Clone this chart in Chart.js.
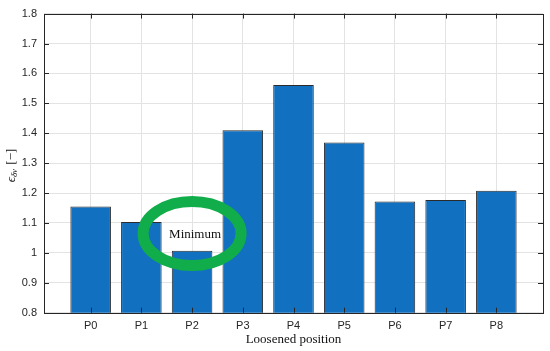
<!DOCTYPE html>
<html>
<head>
<meta charset="utf-8">
<script src="https://cdn.jsdelivr.net/npm/chart.js@4/dist/chart.umd.min.js"></script>
<style>
  html, body { margin: 0; padding: 0; background: #fff; }
  #wrap { width: 550px; height: 351px; }
</style>
</head>
<body>
<div id="wrap"><canvas id="chart"></canvas></div>
<script>
// chart data
const positions = ['P0', 'P1', 'P2', 'P3', 'P4', 'P5', 'P6', 'P7', 'P8'];
const errorValues = [1.155, 1.103, 1.007, 1.410, 1.561, 1.369, 1.172, 1.177, 1.208];
const yTicks = [0.8, 0.9, 1, 1.1, 1.2, 1.3, 1.4, 1.5, 1.6, 1.7, 1.8];
const markedPosition = 2;      // P2 gets the "Minimum" ring
const markedLevel = 1.065;     // ring centre height
const markText = 'Minimum';

const axisColor = '#262626';
const tickFont = { family: '"Liberation Sans", Arial, sans-serif', size: 11 };

// MATLAB style box + inward tick marks, axis titles, annotation ring
const decorPlugin = {
    id: 'decor',
    afterDatasetsDraw(chart) {
        const ctx = chart.ctx;
        const a = chart.chartArea;
        const x = chart.scales.x;
        const y = chart.scales.y;

        // annotation ring
        const cx = x.getPixelForValue(markedPosition);
        const cy = y.getPixelForValue(markedLevel);
        ctx.save();
        ctx.strokeStyle = '#12ad4b';
        ctx.lineWidth = 11;
        ctx.beginPath();
        ctx.ellipse(cx, cy, 49, 32, 0, 0, Math.PI * 2);
        ctx.stroke();
        ctx.fillStyle = '#111';
        ctx.font = '13px "Liberation Serif", "Times New Roman", serif';
        ctx.textAlign = 'center';
        ctx.textBaseline = 'middle';
        ctx.fillText(markText, cx + 3, cy + 1);
        ctx.restore();

        // box
        ctx.save();
        ctx.strokeStyle = axisColor;
        ctx.lineWidth = 1;
        ctx.strokeRect(Math.round(a.left) + 0.5, Math.round(a.top) + 0.5,
            Math.round(a.right - a.left), Math.round(a.bottom - a.top));

        // inward ticks
        ctx.beginPath();
        positions.forEach((p, i) => {
            const px = Math.round(x.getPixelForValue(i)) + 0.5;
            ctx.moveTo(px, a.bottom); ctx.lineTo(px, a.bottom - 5);
            ctx.moveTo(px, a.top); ctx.lineTo(px, a.top + 5);
        });
        yTicks.forEach(v => {
            const py = Math.round(y.getPixelForValue(v)) + 0.5;
            ctx.moveTo(a.left, py); ctx.lineTo(a.left + 5, py);
            ctx.moveTo(a.right, py); ctx.lineTo(a.right - 5, py);
        });
        ctx.stroke();
        ctx.restore();

        // x axis title
        ctx.save();
        ctx.fillStyle = '#111';
        ctx.font = '13px "Liberation Serif", "Times New Roman", serif';
        ctx.textAlign = 'center';
        ctx.textBaseline = 'middle';
        ctx.fillText('Loosened position', (a.left + a.right) / 2, 340);
        ctx.restore();

        // y axis title, rotated, with subscript
        ctx.save();
        ctx.translate(12, 166);
        ctx.rotate(-Math.PI / 2);
        ctx.fillStyle = '#111';
        ctx.textBaseline = 'middle';
        const main = 'italic 13px "Liberation Serif", serif';
        const sub = 'italic 9px "Liberation Serif", serif';
        const rest = '13px "Liberation Serif", serif';
        ctx.font = main; const w1 = ctx.measureText('\u03F5').width;
        ctx.font = sub; const w2 = ctx.measureText('\u03B4v').width;
        ctx.font = rest; const w3 = ctx.measureText(' [\u2212]').width;
        let tx = -(w1 + w2 + w3) / 2;
        ctx.textAlign = 'left';
        ctx.font = main; ctx.fillText('\u03F5', tx, 0); tx += w1;
        ctx.font = sub; ctx.fillText('\u03B4v', tx, 3); tx += w2 + 1;
        ctx.font = rest; ctx.fillText(' [\u2212]', tx, 0);
        ctx.restore();
    }
};

new Chart(document.getElementById('chart'), {
    type: 'bar',
    data: {
        datasets: [{
            data: errorValues.map((v, i) => ({ x: i, y: v })),
            backgroundColor: '#1170c0',
            borderColor: '#2b2b2b',
            borderWidth: 1,
            borderSkipped: false,
            barPercentage: 0.8,
            categoryPercentage: 1
        }]
    },
    options: {
        responsive: true,
        maintainAspectRatio: false,
        animation: false,
        layout: { padding: { left: 0, right: 7, top: 9, bottom: 0 } },
        plugins: { legend: { display: false }, tooltip: { enabled: false } },
        scales: {
            x: {
                type: 'linear',
                offset: false,
                min: -0.92,
                max: positions.length - 1 + 0.92,
                afterBuildTicks: s => { s.ticks = positions.map((_, i) => ({ value: i })); },
                afterFit: s => { s.height = 38.3; },
                ticks: {
                    callback: v => positions[v],
                    color: axisColor,
                    font: tickFont,
                    padding: 7,
                    maxRotation: 0,
                    autoSkip: false
                },
                grid: { color: '#e3e3e3', drawTicks: false, offset: false },
                border: { display: false }
            },
            y: {
                min: 0.8,
                max: 1.8,
                afterBuildTicks: s => { s.ticks = yTicks.map(v => ({ value: v })); },
                afterFit: s => { s.width = 44; },
                ticks: {
                    callback: v => String(Number(v.toFixed(1))),
                    color: axisColor,
                    font: tickFont,
                    padding: 7
                },
                grid: { color: '#e3e3e3', drawTicks: false },
                border: { display: false }
            }
        }
    },
    plugins: [decorPlugin]
});
</script>
</body>
</html>
